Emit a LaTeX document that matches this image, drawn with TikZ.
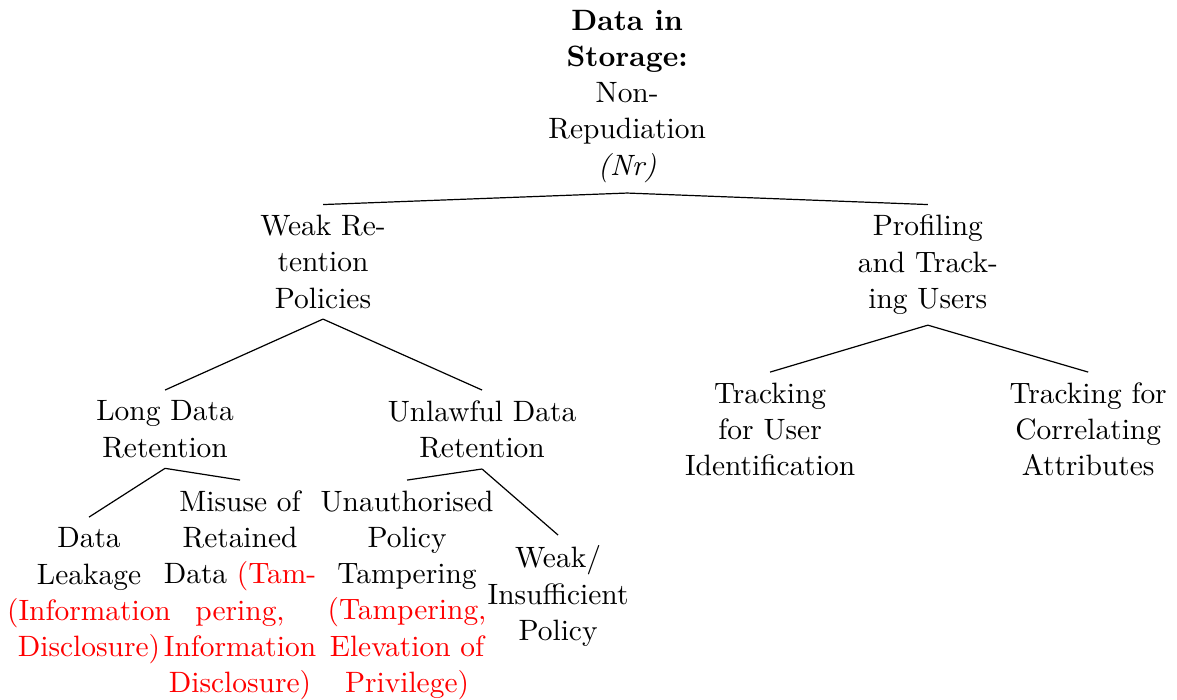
\documentclass[tikz,border=0pt]{standalone}
\usepackage{tikz}
\usetikzlibrary{positioning}
\usepackage{xcolor}

\newcommand{\minaccia}[1]{\textcolor{red}{#1}}

\begin{document}
\begin{tikzpicture}[
  font=\fontsize{9.75pt}{12pt}\selectfont,
  nodo/.style={align=center, anchor=north, inner sep=3.33pt},
  ramo/.style={draw=black, line width=0.4pt}
]
\useasboundingbox (0,0) rectangle (13.70,-8.14);

\node[nodo, anchor=south] (radice) at (7.30,-2.247)
  {\textbf{Data in}\\\textbf{Storage:}\\Non-\\Repudiation\\\textit{(Nr)}};

\node[nodo] (ritenzione) at (3.76,-2.381)  {Weak Re-\\tention\\Policies};
\node[nodo] (profilo)    at (10.80,-2.381) {Profiling\\and Track-\\ing Users};

\node[nodo] (lunga)    at (1.921,-4.540) {Long Data\\Retention};
\node[nodo] (illecita) at (5.611,-4.540) {Unlawful Data\\Retention};
\node[nodo] (identif)  at (8.964,-4.331) {Tracking\\for User\\Identification};
\node[nodo] (correl)   at (12.666,-4.331) {Tracking for\\Correlating\\Attributes};

\node[nodo] (fuga)      at (1.036,-6.019)
  {Data\\Leakage\\\minaccia{(Information}\\\minaccia{Disclosure)}};
\node[nodo] (abuso)     at (2.794,-5.588)
  {Misuse of\\Retained\\Data \minaccia{(Tam-}\\\minaccia{pering,}\\\minaccia{Information}\\\minaccia{Disclosure)}};
\node[nodo] (manomesso) at (4.738,-5.588)
  {Unauthorised\\Policy\\Tampering\\\minaccia{(Tampering,}\\\minaccia{Elevation of}\\\minaccia{Privilege)}};
\node[nodo] (debole)    at (6.496,-6.228) {Weak/\\Insufficient\\Policy};

\draw[ramo] (radice.south) -- (ritenzione.north);
\draw[ramo] (radice.south) -- (profilo.north);
\draw[ramo] (ritenzione.south) -- (lunga.north);
\draw[ramo] (ritenzione.south) -- (illecita.north);
\draw[ramo] (profilo.south) -- (identif.north);
\draw[ramo] (profilo.south) -- (correl.north);
\draw[ramo] (lunga.south) -- (fuga.north);
\draw[ramo] (lunga.south) -- (abuso.north);
\draw[ramo] (illecita.south) -- (manomesso.north);
\draw[ramo] (illecita.south) -- (debole.north);

\end{tikzpicture}
\end{document}
